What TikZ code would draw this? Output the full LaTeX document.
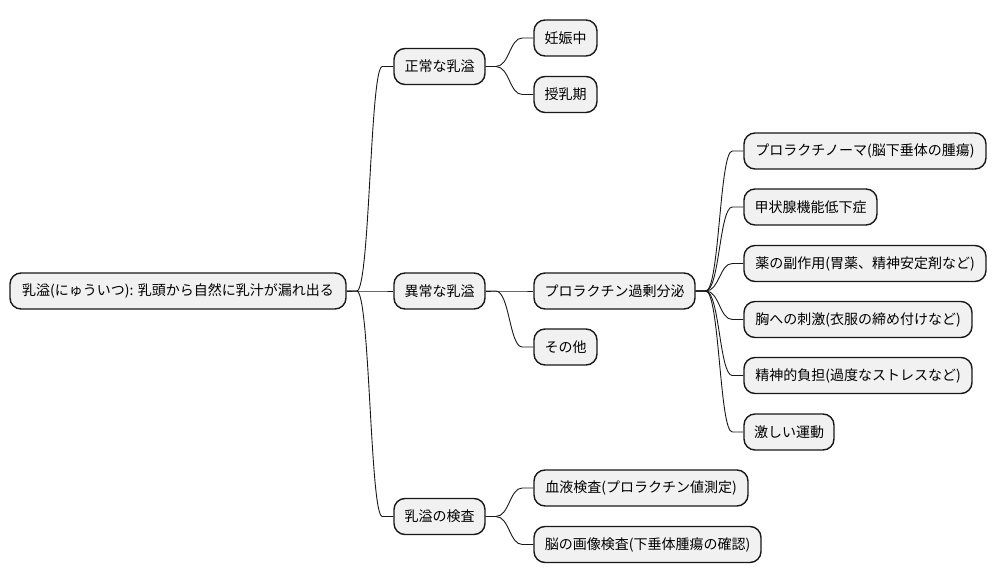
\documentclass[tikz,border=0pt]{standalone}
\usepackage{fontspec}
\setmainfont{Noto Sans CJK JP}
\usetikzlibrary{calc}
\definecolor{boxfill}{HTML}{F1F1F1}
\definecolor{edge}{HTML}{181818}
\tikzset{
  mmbox/.style={draw=edge, fill=boxfill, line width=1.4pt, rounded corners=11pt,
    minimum height=36pt, inner sep=0pt, font=\fontsize{14}{16}\selectfont, text=black},
  mmline/.style={draw=edge, line width=0.9pt}
}
\newcommand{\mmconn}[2]{%
  \path let \p1=(#1.east), \p2=(#2.west), \n1={0.5*(\x1+\x2)} in
    [mmline] (\p1) -- (\x1+10pt,\y1) .. controls (\n1,\y1) and (\n1,\y2) .. (\x2-11pt,\y2) -- (\p2);}
\begin{document}
\begin{tikzpicture}[x=1pt,y=-1pt]
\useasboundingbox (0,0) rectangle (996,583);
% root
\node[mmbox, minimum width=336pt] (root) at (178,291) {乳溢(にゅういつ): 乳頭から自然に乳汁が漏れ出る};
% level 1
\node[mmbox, minimum width=91pt] (n1) at (439.5,66.5) {正常な乳溢};
\node[mmbox, minimum width=91pt] (n2) at (439.5,291) {異常な乳溢};
\node[mmbox, minimum width=91pt] (n3) at (439.5,516.5) {乳溢の検査};
% level 2
\node[mmbox, minimum width=63pt] (a1) at (565.5,38) {妊娠中};
\node[mmbox, minimum width=63pt] (a2) at (565.5,94.5) {授乳期};
\node[mmbox, minimum width=161pt] (b1) at (614.5,291) {プロラクチン過剰分泌};
\node[mmbox, minimum width=63pt] (b2) at (565.5,347) {その他};
\node[mmbox, minimum width=214pt] (c1) at (641,488) {血液検査(プロラクチン値測定)};
\node[mmbox, minimum width=227pt] (c2) at (647.5,544.5) {脳の画像検査(下垂体腫瘍の確認)};
% level 3
\node[mmbox, minimum width=242pt] (d1) at (865,151) {プロラクチノーマ(脳下垂体の腫瘍)};
\node[mmbox, minimum width=133pt] (d2) at (810.5,207) {甲状腺機能低下症};
\node[mmbox, minimum width=242pt] (d3) at (865,263.5) {薬の副作用(胃薬、精神安定剤など)};
\node[mmbox, minimum width=228pt] (d4) at (858,319.5) {胸への刺激(衣服の締め付けなど)};
\node[mmbox, minimum width=228pt] (d5) at (858,375.5) {精神的負担(過度なストレスなど)};
\node[mmbox, minimum width=90pt] (d6) at (789,432) {激しい運動};
% connectors
\mmconn{root}{n1}
\mmconn{root}{n2}
\mmconn{root}{n3}
\mmconn{n1}{a1}
\mmconn{n1}{a2}
\mmconn{n2}{b1}
\mmconn{n2}{b2}
\mmconn{n3}{c1}
\mmconn{n3}{c2}
\mmconn{b1}{d1}
\mmconn{b1}{d2}
\mmconn{b1}{d3}
\mmconn{b1}{d4}
\mmconn{b1}{d5}
\mmconn{b1}{d6}
\end{tikzpicture}
\end{document}
